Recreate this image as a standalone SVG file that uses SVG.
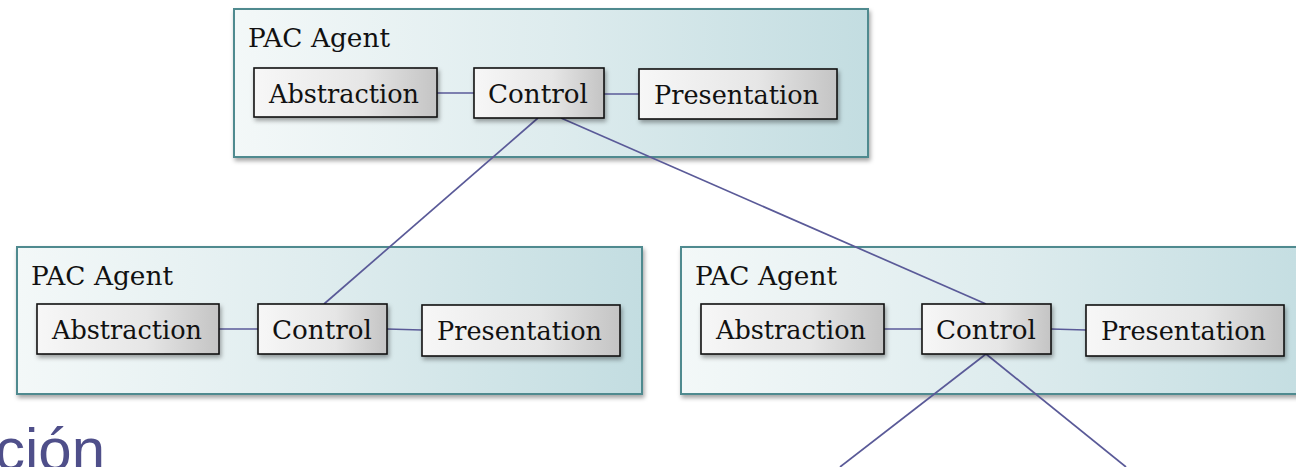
<svg xmlns="http://www.w3.org/2000/svg" width="1296" height="467" viewBox="0 0 1296 467">
<defs>
<linearGradient id="agentGrad" x1="0" y1="0" x2="1" y2="0">
<stop offset="0" stop-color="#f3f8f8"/>
<stop offset="0.5" stop-color="#deecee"/>
<stop offset="1" stop-color="#c3dde1"/>
</linearGradient>
<linearGradient id="boxGrad" x1="0" y1="0" x2="1" y2="0">
<stop offset="0" stop-color="#f7f7f7"/>
<stop offset="0.6" stop-color="#e6e6e6"/>
<stop offset="1" stop-color="#c4c4c4"/>
</linearGradient>
<filter id="shadow" x="-5%" y="-10%" width="115%" height="130%">
<feDropShadow dx="1.5" dy="3" stdDeviation="2" flood-color="#000" flood-opacity="0.35"/>
</filter>
</defs>
<style>
.agent{fill:url(#agentGrad);stroke:#4f8a8f;stroke-width:2;filter:url(#shadow)}
.box{fill:url(#boxGrad);stroke:#111;stroke-width:1.6;filter:url(#shadow)}
.lbl{font-family:"DejaVu Serif","Liberation Serif",serif;font-size:26.5px;fill:#111}
.conn{stroke:#5a5a98;stroke-width:1.7;fill:none}
.big{font-family:"Liberation Sans",Arial,sans-serif;font-size:60px;fill:#4f4f8a}
</style>
<rect width="1296" height="467" fill="#ffffff"/>

<g id="agent-top">
<rect class="agent" x="234" y="9" width="634" height="148"/>
<text class="lbl" x="248" y="47" textLength="142" lengthAdjust="spacingAndGlyphs">PAC Agent</text>
</g>
<g id="agent-left">
<rect class="agent" x="17" y="247" width="625" height="147"/>
<text class="lbl" x="31" y="285" textLength="142" lengthAdjust="spacingAndGlyphs">PAC Agent</text>
</g>
<g id="agent-right">
<rect class="agent" x="681" y="247" width="640" height="147"/>
<text class="lbl" x="695" y="285" textLength="142" lengthAdjust="spacingAndGlyphs">PAC Agent</text>
</g>

<g id="connectors">
<line class="conn" x1="437" y1="93" x2="474" y2="93"/>
<line class="conn" x1="604" y1="94" x2="639" y2="94"/>
<line class="conn" x1="219" y1="329" x2="258" y2="329"/>
<line class="conn" x1="387" y1="329" x2="422" y2="330"/>
<line class="conn" x1="884" y1="329" x2="922" y2="329"/>
<line class="conn" x1="1051" y1="329" x2="1086" y2="330"/>
<line class="conn" x1="538" y1="118" x2="324" y2="304"/>
<line class="conn" x1="561" y1="118" x2="986" y2="304"/>
<line class="conn" x1="986" y1="354" x2="840" y2="467"/>
<line class="conn" x1="986" y1="354" x2="1126" y2="467"/>
</g>

<g id="top-abstraction">
<rect class="box" x="254" y="68" width="183" height="49"/>
<text class="lbl" x="269" y="103" textLength="150" lengthAdjust="spacingAndGlyphs">Abstraction</text>
</g>
<g id="top-control">
<rect class="box" x="474" y="68" width="130" height="50"/>
<text class="lbl" x="488" y="103" textLength="100" lengthAdjust="spacingAndGlyphs">Control</text>
</g>
<g id="top-presentation">
<rect class="box" x="639" y="69" width="198" height="50"/>
<text class="lbl" x="654" y="104" textLength="165" lengthAdjust="spacingAndGlyphs">Presentation</text>
</g>

<g id="left-abstraction">
<rect class="box" x="37" y="304" width="182" height="50"/>
<text class="lbl" x="52" y="339" textLength="150" lengthAdjust="spacingAndGlyphs">Abstraction</text>
</g>
<g id="left-control">
<rect class="box" x="258" y="304" width="129" height="50"/>
<text class="lbl" x="272" y="339" textLength="100" lengthAdjust="spacingAndGlyphs">Control</text>
</g>
<g id="left-presentation">
<rect class="box" x="422" y="305" width="198" height="51"/>
<text class="lbl" x="437" y="340" textLength="165" lengthAdjust="spacingAndGlyphs">Presentation</text>
</g>

<g id="right-abstraction">
<rect class="box" x="701" y="304" width="183" height="50"/>
<text class="lbl" x="716" y="339" textLength="150" lengthAdjust="spacingAndGlyphs">Abstraction</text>
</g>
<g id="right-control">
<rect class="box" x="922" y="304" width="129" height="50"/>
<text class="lbl" x="936" y="339" textLength="100" lengthAdjust="spacingAndGlyphs">Control</text>
</g>
<g id="right-presentation">
<rect class="box" x="1086" y="305" width="198" height="51"/>
<text class="lbl" x="1101" y="340" textLength="165" lengthAdjust="spacingAndGlyphs">Presentation</text>
</g>

<text class="big" x="-5" y="470">ción</text>
</svg>
